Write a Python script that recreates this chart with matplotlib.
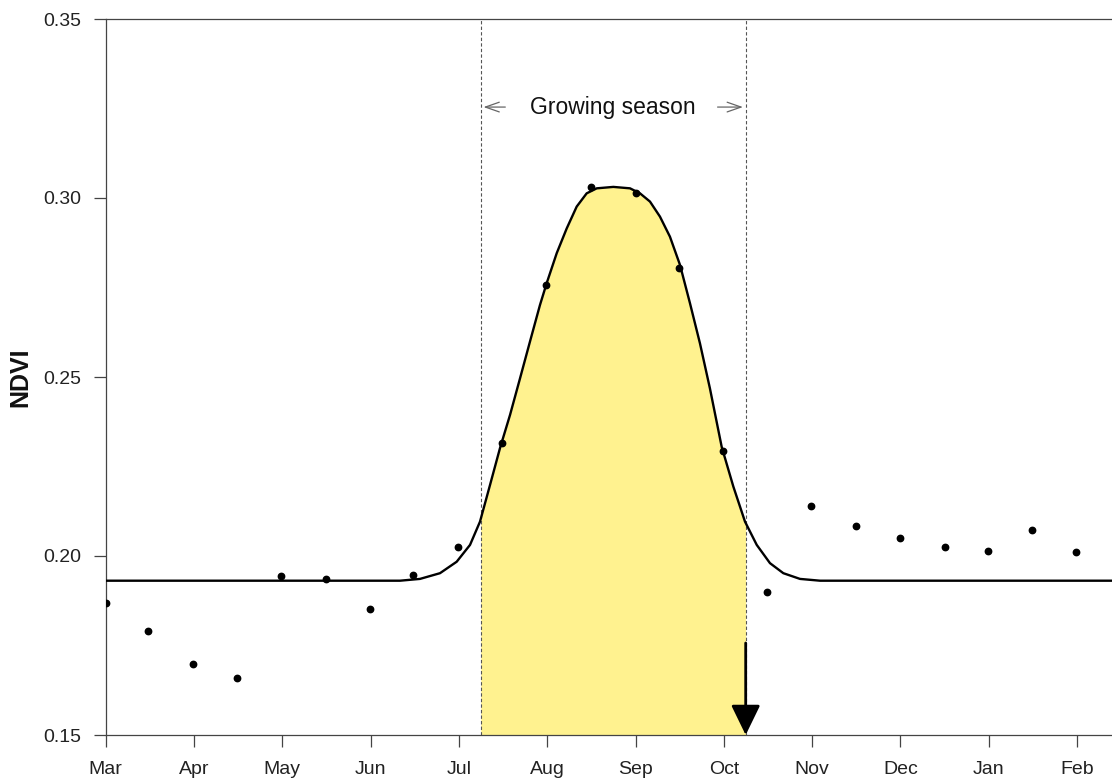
import numpy as np
import matplotlib
matplotlib.use("Agg")
import matplotlib.pyplot as plt

plt.rcParams['font.family'] = ['Liberation Sans', 'DejaVu Sans']

# ---- data (x in months since 1 March) ----
months = ['Mar', 'Apr', 'May', 'Jun', 'Jul', 'Aug', 'Sep', 'Oct', 'Nov', 'Dec', 'Jan', 'Feb']
obs_x = [0.00, 0.48, 0.985, 1.487, 1.985, 2.49, 2.993, 3.483, 3.986, 4.488, 4.986,
         5.496, 6.005, 6.496, 6.987, 7.493, 7.99, 8.494, 8.999, 9.502, 9.989, 10.49, 10.99]
obs_y = [0.1868, 0.1790, 0.1697, 0.1659, 0.1945, 0.1937, 0.1853, 0.1948, 0.2024, 0.2316, 0.2757,
         0.3030, 0.3015, 0.2804, 0.2293, 0.1900, 0.2140, 0.2083, 0.2051, 0.2024, 0.2013, 0.2073, 0.2011]

# fitted curve
fit_x = [0.0, 3.333, 3.559, 3.786, 3.975, 4.126, 4.239, 4.352, 4.465, 4.579, 4.692, 4.805,
         4.918, 4.994, 5.108, 5.221, 5.334, 5.447, 5.561, 5.749, 5.938, 6.051, 6.164, 6.277,
         6.390, 6.504, 6.617, 6.730, 6.843, 6.976, 7.108, 7.240, 7.373, 7.523, 7.674, 7.863,
         8.090, 11.5]
fit_y = [0.1931, 0.1931, 0.1936, 0.1952, 0.1984, 0.2031, 0.2096, 0.2198, 0.2301, 0.2394, 0.2496, 0.2599,
         0.2701, 0.2762, 0.2846, 0.2915, 0.2976, 0.3013, 0.3027, 0.3031, 0.3027, 0.3013, 0.2990, 0.2948,
         0.2892, 0.2813, 0.2706, 0.2594, 0.2468, 0.2305, 0.2194, 0.2096, 0.2031, 0.1980, 0.1952, 0.1936,
         0.1931, 0.1931]

season_start = 4.247
season_end = 7.248
y_ticks = [0.15, 0.20, 0.25, 0.30, 0.35]

# ---- figure ----
fig = plt.figure(figsize=(11.12, 7.8), dpi=100)
ax = fig.add_axes([105.7 / 1112, 1 - 735 / 780, 1 - 105.7 / 1112, (735 - 19) / 780])

fx = np.array(fit_x)
fy = np.array(fit_y)
mask = (fx > season_start) & (fx < season_end)
poly_x = np.concatenate([[season_start], fx[mask], [season_end]])
poly_y = np.concatenate([[np.interp(season_start, fx, fy)], fy[mask], [np.interp(season_end, fx, fy)]])
ax.fill_between(poly_x, 0.15, poly_y, color='#FFF28F', lw=0, zorder=1)

for xv in (season_start, season_end):
    ax.axvline(xv, color='#555555', lw=0.8, ls=(0, (3, 2)), zorder=2)

ax.plot(fit_x, fit_y, color='black', lw=1.7, zorder=3, solid_joinstyle='round')
ax.plot(obs_x, obs_y, 'o', color='black', ms=4.6, zorder=4)

# growing season label with arrows
ax.text((season_start + season_end) / 2, 0.3254, 'Growing season', ha='center', va='center',
        fontsize=16.5, color='#111111', zorder=5)
ax.annotate('', xy=(season_start, 0.3254), xytext=(season_start + 0.31, 0.3254),
            arrowprops=dict(arrowstyle='->,head_length=1.0,head_width=0.35', color='#666666', lw=0.9))
ax.annotate('', xy=(season_end, 0.3254), xytext=(season_end - 0.35, 0.3254),
            arrowprops=dict(arrowstyle='->,head_length=1.0,head_width=0.35', color='#666666', lw=0.9))

# end-of-season arrow
ax.annotate('', xy=(season_end, 0.15), xytext=(season_end, 0.1757),
            arrowprops=dict(arrowstyle='-|>,head_length=1.85,head_width=0.9', color='black', lw=2,
                            shrinkA=0, shrinkB=0), zorder=6)

ax.set_xlim(0, (1112 - 105.7) / 88.3)
ax.set_ylim(0.15, 0.35)
ax.set_xticks(range(len(months)))
ax.set_xticklabels(months)
ax.set_yticks(y_ticks)
ax.set_yticklabels(['%.2f' % v for v in y_ticks])
ax.tick_params(axis='both', direction='out', length=8.5, width=0.9, color='#444444',
               labelsize=14, labelcolor='#222222')
ax.tick_params(axis='x', pad=10)
ax.tick_params(axis='y', pad=9)
for s in ('left', 'bottom', 'top'):
    ax.spines[s].set_color('#444444')
    ax.spines[s].set_linewidth(0.9)
ax.spines['right'].set_visible(False)

fig.text(20 / 1112, 1 - 377 / 780, 'NDVI', rotation=90, ha='center', va='center',
         fontsize=18, fontweight='bold', color='#111111')

fig.savefig('out.png', dpi=100)
